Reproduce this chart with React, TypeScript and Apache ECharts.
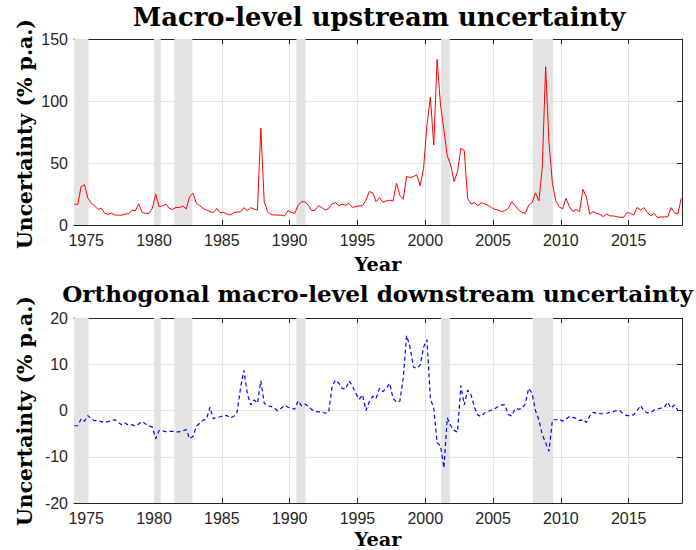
import React, { useEffect, useRef } from "react";
import * as echarts from "echarts";

// ---- data (quarterly, 1974Q1 .. 2018Q4) ----
const START_YEAR = 1974;

const upstream: number[] = [
  17, 16.4, 31, 32.5, 21.5, 17.5, 15.3, 12.6, 13.4, 9.4,
  8.6, 9.4, 8, 8, 8, 8.9, 8.9, 12, 11.6, 17,
  10, 9.4, 9.4, 13.4, 25, 14.8, 15.3, 17, 13.4, 12.6,
  14.2, 14, 15.3, 12.9, 22.8, 25.5, 17.5, 15.6, 13.4, 12,
  10.8, 10, 13.4, 10, 10.2, 8.9, 8, 10, 10.5, 10.5,
  14, 11.6, 14, 12.9, 12, 78, 18.8, 10.8, 8.6, 8,
  8, 8, 7.3, 11.6, 10.2, 9.4, 16, 18.8, 18.8, 16,
  11.6, 12, 15.6, 14, 12, 13.4, 17, 18, 15.6, 16.7,
  16, 17.5, 14.2, 14.8, 15.3, 15.6, 20, 27, 26, 18.8,
  22, 18.3, 19.4, 20, 19.4, 33.6, 24, 20.7, 39, 38.4,
  39, 40.6, 31.5, 45.7, 80.6, 103, 64.5, 133.6, 96.8, 76.6,
  55.6, 48.4, 35, 43, 61.8, 60, 21.5, 17, 18, 15.6,
  18, 17, 15.9, 14, 12.6, 12.1, 10.8, 11.6, 13.4, 18.8,
  15.6, 12.1, 10.2, 9.4, 16, 18, 26, 19.4, 45.7, 127.7,
  65.9, 33.6, 19.4, 14.8, 12.9, 21.5, 14.8, 10.8, 12.6, 10.8,
  28.8, 22.8, 8.6, 10.8, 9.4, 8.6, 6.7, 8.9, 7.3, 7.3,
  6.7, 6.2, 6.2, 10, 9.4, 8, 14.2, 12, 14, 10,
  7.5, 9.4, 5.9, 6.5, 6.5, 6.7, 14, 10, 8.9, 21.5,
];

const downstream: number[] = [
  -3.3, -3.3, -1.8, -2.3, -1.1, -1.8, -2.2, -2.2, -2.4, -2.6,
  -2.4, -2.1, -2.0, -2.6, -3.1, -2.7, -3.2, -3.1, -3.3, -2.9,
  -2.4, -2.9, -3.3, -3.6, -6.1, -4.3, -4.4, -4.6, -4.5, -4.5,
  -4.6, -4.6, -4.4, -4.1, -6.1, -5.6, -3.4, -2.7, -2.1, -1.8,
  0.7, -1.8, -1.4, -1.4, -1.1, -1.1, -1.6, -1.3, -0.4, 4.8,
  8.7, 3.7, 1.2, 2.3, 1.6, 6.4, 1.6, 1.0, 0.9, 0.5,
  -0.1, 0.5, 1.1, 0.7, 0.5, 0.3, 2.1, 1.0, 1.4, 0.9,
  0.2, -0.2, -0.3, -0.3, -0.6, -0.4, 5.1, 6.6, 5.9, 4.8,
  4.6, 6.4, 5.3, 3.7, 2.4, 3.4, 0, 1.9, 3.1, 2.6,
  4.8, 4.1, 4.8, 5.9, 2.6, 1.8, 2.0, 7.0, 16.2, 13.7,
  9.4, 9.1, 9.8, 13.7, 15.3, 2.6, 0.5, -7.0, -7.6, -12.4,
  -1.6, -3.3, -4.3, -4.7, 5.4, 1.2, 4.4, 3.4, 0.7, -1.0,
  -1.3, -0.5, -0.2, 0.1, 0.4, 0.9, 1.2, 1.2, -0.9, -1.2,
  0.4, 0.3, 0.4, 1.5, 4.8, 3.7, 0, -2.0, -5.2, -7.0,
  -8.8, -2.0, -2.0, -1.9, -2.3, -1.9, -1.3, -1.5, -1.7, -2.2,
  -1.9, -2.6, -1.2, -0.4, -0.6, -0.7, -0.7, -0.6, -0.4, -0.2,
  0, -0.1, -0.8, -1.1, -1.1, -0.9, 0, 1.1, -0.1, -0.5,
  -0.4, 0.1, 0.3, 0.5, 0.7, 1.8, 0.5, 1.2, 0, 0,
];

// NBER recessions (start, end) in decimal years
const recessionStart = [1973.83, 1980.0, 1981.5, 1990.5, 2001.17, 2007.92];
const recessionEnd = [1975.17, 1980.5, 1982.83, 1991.17, 2001.83, 2009.42];

const yearTicks = [1975, 1980, 1985, 1990, 1995, 2000, 2005, 2010, 2015];

const title1 = "Macro-level upstream uncertainty";
const title2 = "Orthogonal macro-level downstream uncertainty";
const yLabel = "Uncertainty (% p.a.)";
const xLabel = "Year";

const X_MIN = 1974.1;
const X_MAX = 2018.93;

const SERIF = '"DejaVu Serif", serif';
const SANS = '"Liberation Sans", Arial, sans-serif';
const AXIS_COLOR = "#262626";

function fitSize(text: string, target: number): number {
  const c = document.createElement("canvas");
  const ctx = c.getContext("2d");
  if (!ctx) return 20;
  ctx.font = `bold 100px ${SERIF}`;
  const w = ctx.measureText(text).width;
  return (100 * target) / w;
}

function toPoints(vals: number[]) {
  return vals.map((v, i) => [START_YEAR + i / 4 + 0.125, v]);
}

export default function App() {
  const ref = useRef<HTMLDivElement>(null);

  useEffect(() => {
    if (!ref.current) return;
    const chart = echarts.init(ref.current, undefined, { renderer: "svg" });

    const grids = [
      { left: 74, top: 39, width: 608, height: 186 },
      { left: 74, top: 318, width: 608, height: 185 },
    ];

    const xBottom = (g: number) => ({
      type: "value",
      gridIndex: g,
      min: X_MIN,
      max: X_MAX,
      position: "bottom",
      axisLine: { show: true, onZero: false, lineStyle: { color: AXIS_COLOR, width: 1 } },
      axisTick: { show: true, inside: true, length: 5, customValues: yearTicks, lineStyle: { color: AXIS_COLOR } },
      axisLabel: {
        show: true,
        customValues: yearTicks,
        color: AXIS_COLOR,
        fontFamily: SANS,
        fontSize: 16,
        margin: 7,
        formatter: (v: number) => String(Math.round(v)),
      },
      splitLine: { show: true, lineStyle: { color: "#e4e4e4", width: 1 } },
    });
    const xTop = (g: number) => ({
      type: "value",
      gridIndex: g,
      min: X_MIN,
      max: X_MAX,
      position: "top",
      axisLine: { show: true, onZero: false, lineStyle: { color: AXIS_COLOR, width: 1 } },
      axisTick: { show: true, inside: true, length: 5, customValues: yearTicks, lineStyle: { color: AXIS_COLOR } },
      axisLabel: { show: false, customValues: yearTicks },
      splitLine: { show: false },
    });
    const yLeft = (g: number, min: number, max: number, interval: number) => ({
      type: "value",
      gridIndex: g,
      min,
      max,
      interval,
      position: "left",
      axisLine: { show: true, onZero: false, lineStyle: { color: AXIS_COLOR, width: 1 } },
      axisTick: { show: true, inside: true, length: 5, lineStyle: { color: AXIS_COLOR } },
      axisLabel: {
        show: true,
        color: AXIS_COLOR,
        fontFamily: SANS,
        fontSize: 16,
        margin: 6,
        formatter: (v: number) => String(v),
      },
      splitLine: { show: true, lineStyle: { color: "#e4e4e4", width: 1 } },
    });
    const yRight = (g: number, min: number, max: number, interval: number) => ({
      type: "value",
      gridIndex: g,
      min,
      max,
      interval,
      position: "right",
      axisLine: { show: true, onZero: false, lineStyle: { color: AXIS_COLOR, width: 1 } },
      axisTick: { show: true, inside: true, length: 5, lineStyle: { color: AXIS_COLOR } },
      axisLabel: { show: false },
      splitLine: { show: false },
    });

    const recessionAreas = recessionStart.map((s, i) => [
      { xAxis: Math.max(s, X_MIN) },
      { xAxis: recessionEnd[i] },
    ]);

    const t1 = fitSize(title1, 493);
    const t2 = fitSize(title2, 631);
    const yl = fitSize(yLabel, 230);
    const xl = fitSize(xLabel, 47);

    const textEl = (text: string, x: number, y: number, size: number, rot = 0) => ({
      type: "text",
      x,
      y,
      rotation: rot,
      silent: true,
      style: {
        text,
        fontFamily: SERIF,
        fontWeight: "bold",
        fontSize: size,
        fill: "#000",
        align: "center",
        verticalAlign: "middle",
      },
    });

    chart.setOption({
      animation: false,
      backgroundColor: "#ffffff",
      grid: grids,
      xAxis: [xBottom(0), xTop(0), xBottom(1), xTop(1)],
      yAxis: [yLeft(0, 0, 150, 50), yRight(0, 0, 150, 50), yLeft(1, -20, 20, 10), yRight(1, -20, 20, 10)],
      series: [
        {
          type: "line",
          xAxisIndex: 0,
          yAxisIndex: 0,
          data: toPoints(upstream),
          symbol: "none",
          lineStyle: { color: "#ff0000", width: 1 },
          markArea: { silent: true, itemStyle: { color: "#e3e3e3" }, data: recessionAreas },
          z: 3,
        },
        {
          type: "line",
          xAxisIndex: 2,
          yAxisIndex: 2,
          data: toPoints(downstream),
          symbol: "none",
          lineStyle: { color: "#0000ff", width: 1.2, type: [4, 3] },
          markArea: { silent: true, itemStyle: { color: "#e3e3e3" }, data: recessionAreas },
          z: 3,
        },
      ],
      graphic: [
        textEl(title1, 379, 17, t1),
        textEl(title2, 377.5, 293, t2),
        textEl(yLabel, 25, 134, yl, Math.PI / 2),
        textEl(yLabel, 25, 411, yl, Math.PI / 2),
        textEl(xLabel, 378, 264, xl),
        textEl(xLabel, 378, 539, xl),
      ],
    });

    return () => chart.dispose();
  }, []);

  return (
    <div
      ref={ref}
      style={{ position: "fixed", left: 0, top: 0, width: 696, height: 550, background: "#fff" }}
    />
  );
}
